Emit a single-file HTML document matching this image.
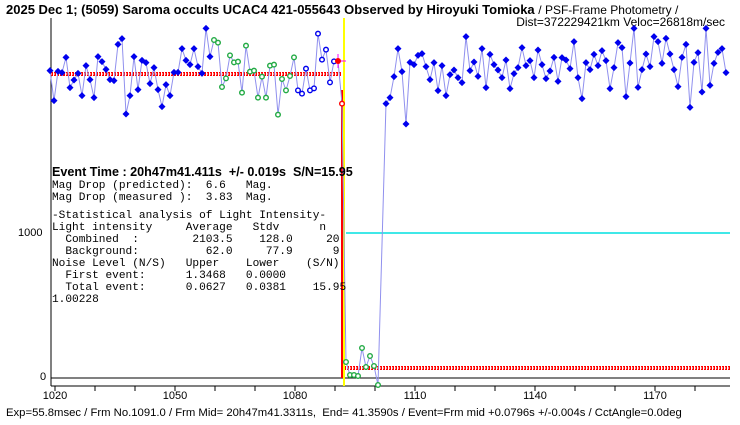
<!DOCTYPE html>
<html><head><meta charset="utf-8"><style>
html,body{margin:0;padding:0;background:#fff;}
svg{display:block;}
text{font-family:"Liberation Sans",sans-serif;white-space:pre;}
.m text{font-family:"Liberation Mono",monospace;font-size:11.15px;white-space:pre;}
</style></head><body>
<svg id="s" width="740" height="425" xmlns="http://www.w3.org/2000/svg" xml:space="preserve">
<text x="6" y="14" font-size="13" font-weight="bold">2025 Dec 1; (5059) Saroma occults UCAC4 421-055643 Observed by Hiroyuki Tomioka <tspan font-weight="normal" font-size="12">/ PSF-Frame Photometry /</tspan></text>
<text x="725" y="26" font-size="12" text-anchor="end">Dist=372229421km Veloc=26818m/sec</text>
<line x1="51" y1="18" x2="51" y2="386" stroke="#000"/>
<line x1="51" y1="378" x2="730" y2="378" stroke="#000"/>
<line x1="51" y1="386" x2="730" y2="386" stroke="#000"/>
<g id="ticks" stroke="#000"></g>
<text x="18" y="236" font-size="11">1000</text>
<text x="40" y="380" font-size="11">0</text>
<g font-size="11" text-anchor="middle">
<text x="55" y="399">1020</text><text x="175" y="399">1050</text><text x="295" y="399">1080</text>
<text x="415" y="399">1110</text><text x="535" y="399">1140</text><text x="655" y="399">1170</text></g>
<text x="6" y="416" font-size="11.3">Exp=55.8msec / Frm No.1091.0 / Frm Mid= 20h47m41.3311s,  End= 41.3590s / Event=Frm mid +0.0796s +/-0.004s / CctAngle=0.0deg</text>
<line x1="346" y1="233" x2="730" y2="233" stroke="#00e0e0" stroke-width="1.5"/>
<line x1="51" y1="74" x2="342" y2="74" stroke="#f00" stroke-width="4" stroke-dasharray="2 1"/>
<line x1="344" y1="368" x2="730" y2="368" stroke="#f00" stroke-width="4" stroke-dasharray="2 1"/>
<line x1="51" y1="74" x2="342" y2="74" stroke="#fff" stroke-width="1" stroke-dasharray="1 2"/>
<line x1="344" y1="368" x2="730" y2="368" stroke="#fff" stroke-width="1" stroke-dasharray="1 2"/>
<line x1="344" y1="18" x2="344" y2="386" stroke="#ff0" stroke-width="2"/>
<line x1="342" y1="90" x2="342" y2="378" stroke="#f00" stroke-width="2"/>
<polyline id="pl" fill="none" stroke="#9090ee" stroke-width="1"/>
<g id="pts"></g>
<line x1="338" y1="61" x2="346" y2="61" stroke="#f0f"/><line x1="338" y1="54" x2="338" y2="68" stroke="#f0f"/>
<circle cx="338" cy="61" r="3" fill="#f00"/>
<text x="52" y="176" font-size="12.6" font-weight="bold">Event Time : 20h47m41.411s  +/- 0.019s  S/N=15.95</text>
<g class="m">
<text x="52" y="188">Mag Drop (predicted):  6.6   Mag.</text>
<text x="52" y="200">Mag Drop (measured ):  3.83  Mag.</text>
<text x="52" y="218">-Statistical analysis of Light Intensity-</text>
<text x="52" y="230">Light intensity     Average   Stdv      n</text>
<text x="52" y="242">  Combined  :        2103.5    128.0     20</text>
<text x="52" y="254">  Background:          62.0     77.9      9</text>
<text x="52" y="266">Noise Level (N/S)   Upper    Lower    (S/N)</text>
<text x="52" y="278">  First event:      1.3468   0.0000</text>
<text x="52" y="290">  Total event:      0.0627   0.0381    15.95</text>
<text x="52" y="302">1.00228</text>
</g>
</svg>
<script>
var NS="http://www.w3.org/2000/svg";
function el(t,a,p){var e=document.createElementNS(NS,t);for(var k in a)e.setAttribute(k,a[k]);p.appendChild(e);return e;}
var tk=document.getElementById('ticks');
for(var x=55;x<=730;x+=40){el('line',{x1:x,y1:386,x2:x,y2:391},tk);}
var L=[212,302,214,218,172,263,240,220,287,197,239,293,170,185,208,239,242,133,116,342,287,170,269,181,188,251,203,269,320,254,287,217,217,146,181,194,146,200,220,85,170,120,128,261,235,166,187,185,278,137,215,212,293,230,293,197,194,344,237,271,228,172,271,281,206,271,265,101,179,149,247,184,182,311];
var P=[];
for(var i=0;i<L.length;i++){var t=i<41?'b':(i<62?'g':'o');if(i==72)t='r';if(i==73)t='ro';P.push([50+i*4,L[i]/3,t]);}
var D=[[346,362],[350,375],[354,375],[358,376],[362,348],[366,367],[370,356],[374,366],[378,385]];
D.forEach(function(d){P.push([d[0],d[1],'g']);});
var R=[311,293,230,146,215,372,187,194,166,161,200,239,188,272,197,287,224,210,233,248,110,212,186,229,146,263,163,194,210,233,180,266,221,203,143,197,182,233,150,194,236,213,172,244,173,180,206,125,233,296,188,209,163,197,152,182,266,203,128,143,290,189,85,262,209,162,200,110,125,190,115,162,209,260,172,133,322,187,158,276,85,256,190,157,146,218];
for(var j=0;j<R.length;j++)P.push([386+j*4,R[j]/3,'b']);
document.getElementById('pl').setAttribute('points',P.map(function(p){return p[0]+','+p[1];}).join(' '));
var g=document.getElementById('pts');
P.forEach(function(p){
 if(p[2]=='r')return;
 var x=p[0],y=p[1];
 if(p[2]=='b')el('polygon',{points:(x)+','+(y-3.5)+' '+(x+3.5)+','+y+' '+x+','+(y+3.5)+' '+(x-3.5)+','+y,fill:'#0000ee'},g);
 else{var c=p[2]=='g'?'#22aa44':(p[2]=='o'?'#0000ee':'#f00');el('circle',{cx:x,cy:y,r:2.3,fill:'#fff',stroke:c,'stroke-width':1.4},g);}
});
</script>
</body></html>
